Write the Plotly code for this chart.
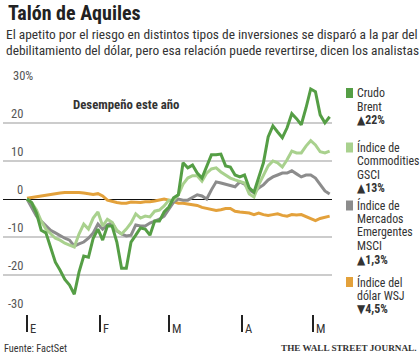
import pandas as pd
import plotly.graph_objects as go

# ---- data (percent change since start of year), sampled every 2 days ----
start_date = "2016-01-01"
brent = [0, -1.0, -3.7, -8.2, -8.9, -12.9, -16.6, -18.7, -21.1, -22.6, -25.0, -19.2, -15.0, -15.3,
         -10.3, -7.9, -10.8, -7.1, -7.1, -11.3, -18.2, -18.2, -11.3, -9.5, -7.6, -7.9, -9.5, -5.8,
         -5.8, -3.4, -2.1, 0.3, 1.1, 9.5, 8.2, 8.9, 6.8, 5.5, 8.7, 11.6, 11.6, 11.8, 8.7, 8.4, 6.3,
         5.8, 6.3, 2.9, 1.8, 5.5, 9.5, 16.3, 19.2, 17.6, 16.1, 18.7, 22.4, 21.1, 19.5, 23.9, 28.9,
         28.2, 22.1, 20.0, 21.6]
gsci = [0, -1.0, -2.9, -5.8, -7.9, -9.2, -10.3, -10.8, -11.6, -12.1, -12.6, -9.2, -6.6, -7.9,
        -5.0, -3.4, -7.1, -5.3, -6.1, -8.2, -9.2, -7.9, -6.3, -3.9, -5.0, -4.5, -4.7, -3.2, -2.9,
        -1.8, -0.3, -0.3, 1.1, 3.9, 5.5, 6.1, 6.1, 4.7, 6.8, 7.9, 8.2, 7.1, 6.3, 5.5, 5.0, 4.7, 4.2,
        1.3, 0.5, 3.7, 6.3, 8.7, 10.0, 9.5, 8.4, 10.3, 12.6, 12.1, 12.1, 13.9, 15.3, 14.2, 12.4,
        12.1, 12.6]
msci = [0, -2.4, -4.5, -5.8, -7.1, -8.2, -8.9, -9.7, -10.3, -10.8, -12.4, -11.8, -11.3, -10.3,
        -8.9, -6.6, -7.9, -6.8, -6.3, -8.4, -9.2, -9.7, -9.5, -6.8, -7.1, -7.1, -6.3, -5.8, -5.3,
        -4.5, -2.6, -0.8, 0, -0.3, -0.3, 0.3, 1.1, 0.8, 0, 2.4, 4.5, 4.2, 3.9, 3.4, 3.2, 4.5, 3.9,
        2.4, 1.6, 2.9, 3.7, 5.0, 5.8, 6.3, 6.8, 6.8, 7.4, 6.6, 5.8, 6.3, 6.3, 5.5, 3.7, 2.1, 1.3]
dollar = [0.2, 0.4, 0.6, 0.8, 1.1, 1.2, 1.4, 1.6, 1.7, 1.7, 1.8, 1.7, 1.6, 1.3, 1.2, 1.4, 0.8,
          -0.3, -0.7, -0.9, -1.1, -1.1, -0.8, -0.8, -0.9, -0.7, -0.7, -0.5, -0.3, 0, -0.3, -0.8,
          -1.1, -1.1, -1.3, -1.6, -1.7, -2.2, -2.5, -2.6, -3.0, -2.8, -2.5, -2.5, -3.2, -3.4, -3.6,
          -3.7, -4.1, -3.7, -4.1, -4.3, -4.1, -3.9, -4.3, -4.5, -4.1, -4.2, -4.1, -4.6, -5.1, -5.7,
          -5.1, -4.7, -4.5]
dates = pd.date_range(start_date, periods=len(brent), freq="2D")

month_ticks = ["2016-01-01", "2016-02-01", "2016-03-01", "2016-04-01", "2016-05-01"]
month_labels = ["E", "F", "M", "A", "M"]
y_ticks = [30, 20, 10, 0, -10, -20, -30]
y_labels = ["30%", "20", "10", "0", "-10", "-20", "-30"]

series_names = ["Crudo Brent", "Índice de Commodities GSCI", "Índice de Mercados Emergentes MSCI",
                "Índice del dólar WSJ"]
series_values = [brent, gsci, msci, dollar]
colors = ["#559e45", "#a9d18e", "#8c8c8c", "#e3a13b"]
legend_lines = [["Crudo", "Brent", "<b>▲22%</b>"],
                ["Índice de", "Commodities", "GSCI", "<b>▲13%</b>"],
                ["Índice de", "Mercados", "Emergentes", "MSCI", "<b>▲1,3%</b>"],
                ["Índice del", "dólar WSJ", "<b>▼4,5%</b>"]]

FONT = "Roboto Condensed, DejaVu Sans Condensed, sans-serif"
W, H = 420, 360
L, R, T, B = 3, 88, 84, 46
PW, PH = W - L - R, H - T - B


def px(x):
    return (x - L) / PW


def py(y):
    return (H - B - y) / PH


fig = go.Figure()
order = [3, 2, 1, 0]
for i in order:
    fig.add_trace(go.Scatter(x=dates, y=series_values[i], mode="lines", name=series_names[i],
                             line=dict(color=colors[i], width=3), hoverinfo="skip"))

ann = []
# title & subtitle
ann.append(dict(text="<b>Talón de Aquiles</b>", x=px(6), y=py(13), xanchor="left", yanchor="middle",
                font=dict(size=20, color="#222", family=FONT)))
ann.append(dict(text="El apetito por el riesgo en distintos tipos de inversiones se disparó a la par del",
                x=px(4), y=py(35), xanchor="left", yanchor="middle",
                font=dict(size=13.4, color="#333", family=FONT)))
ann.append(dict(text="debilitamiento del dólar, pero esa relación puede revertirse, dicen los analistas",
                x=px(4), y=py(51), xanchor="left", yanchor="middle",
                font=dict(size=13.4, color="#333", family=FONT)))
ann.append(dict(text="<b>Desempeño este año</b>", x=px(71), y=py(104), xanchor="left", yanchor="middle",
                font=dict(size=12.8, color="#333", family=FONT)))
# y labels
for v, lab in zip(y_ticks, y_labels):
    if lab.endswith("%"):
        ann.append(dict(text=lab, x=px(11), y=v, yref="y", xanchor="left", yanchor="bottom", yshift=0,
                        font=dict(size=12.5, color="#555", family=FONT)))
    else:
        ann.append(dict(text=lab, x=px(24.5), y=v, yref="y", xanchor="right", yanchor="bottom", yshift=0,
                        font=dict(size=12.5, color="#555", family=FONT)))
# month labels
for d, lab in zip(month_ticks, month_labels):
    ann.append(dict(text=lab, x=d, xref="x", y=py(328), xanchor="left", yanchor="middle", xshift=1,
                    font=dict(size=12.5, color="#333", family=FONT)))
# legend
block_tops = [93, 147.5, 205.5, 282]
shapes = []
for lines, top, c in zip(legend_lines, block_tops, colors):
    shapes.append(dict(type="rect", xref="paper", yref="paper", x0=px(346), x1=px(353),
                       y0=py(top - 5), y1=py(top + 5), fillcolor=c, line=dict(width=0)))
    for j, t in enumerate(lines):
        ann.append(dict(text=t, x=px(354.5), y=py(top + j * 13.5), xanchor="left", yanchor="middle",
                        font=dict(size=11.9, color="#333", family=FONT)))
# footer
ann.append(dict(text="Fuente: FactSet", x=px(2), y=py(348), xanchor="left", yanchor="middle",
                font=dict(size=10.3, color="#333", family=FONT)))
ann.append(dict(text="<b>THE WALL STREET JOURNAL.</b>", x=px(418), y=py(348), xanchor="right",
                yanchor="middle", font=dict(size=9.2, color="#333", family="Liberation Serif, serif")))
for a in ann:
    a.setdefault("xref", "paper")
    a.setdefault("yref", "paper")
    a["showarrow"] = False

fig.update_layout(
    width=W, height=H, margin=dict(l=L, r=R, t=T, b=B, pad=0),
    paper_bgcolor="white", plot_bgcolor="white", showlegend=False,
    annotations=ann, shapes=shapes,
    xaxis=dict(type="date", range=["2015-12-21 20:24", "2016-05-09"], tickvals=month_ticks,
               showticklabels=False, ticks="outside", ticklen=17, tickwidth=1.5, tickcolor="#222",
               showgrid=False, zeroline=False, showline=False, fixedrange=True),
    yaxis=dict(range=[-30.2, 30.2], tickvals=y_ticks, showticklabels=False, showgrid=True,
               gridcolor="#cccccc", gridwidth=1.5, zeroline=True, zerolinecolor="#111",
               zerolinewidth=1.3, showline=False, fixedrange=True),
)

fig.write_html("out.html", config={"displayModeBar": False},
               post_script="document.body.style.margin='0';document.body.style.overflow='hidden';")
